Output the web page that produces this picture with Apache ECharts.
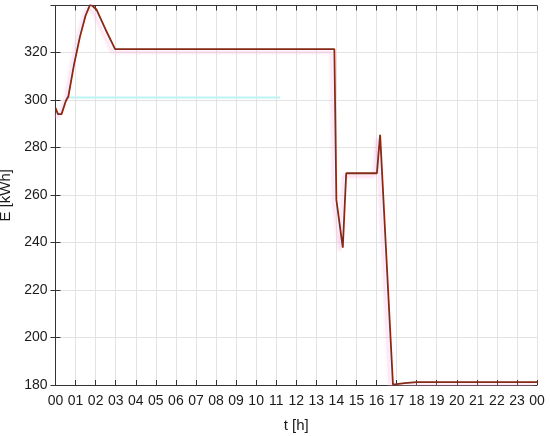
<!DOCTYPE html>
<html>
<head>
<meta charset="utf-8">
<script src="https://cdn.jsdelivr.net/npm/echarts@6/dist/echarts.min.js"></script>
<style>
html,body{margin:0;padding:0;background:#fff;}
#chart{width:550px;height:436px;}
</style>
</head>
<body>
<div id="chart"></div>
<script>
// time in hours, energy in kWh
var hours = [0, 0.12, 0.3, 0.52, 0.64, 0.92, 1.22, 1.5, 1.72, 1.85, 2.05, 2.5, 2.97,
             13.9, 14.0, 14.32, 14.49, 16.02, 16.18, 16.82, 17.4, 18, 24];
var energy = [296.6, 294.0, 294.0, 299.6, 301.4, 314.7, 326.6, 335.5, 340, 339.5, 337.9, 329.5, 321.3,
              321.3, 257.9, 237.8, 269.1, 269.1, 285.3, 180.2, 180.8, 181.2, 181.2];
var refHours = [0.52, 11.2];
var refEnergy = [301, 301];
var yTicks = [180, 200, 220, 240, 260, 280, 300, 320];

var pair = function (xs, ys) {
    return xs.map(function (x, i) { return [x, ys[i]]; });
};
var two = function (v) {
    var h = Math.round(v) % 24;
    return (h < 10 ? "0" : "") + h;
};

var myChart = echarts.init(document.getElementById("chart"));
var option = {
    animation: false,
    textStyle: { fontFamily: "Liberation Sans, Arial, sans-serif" },
    grid: { left: 55.5, right: 13, top: 5.5, bottom: 51, containLabel: false, outerBoundsMode: "none" },
    xAxis: [
        {
            type: "value",
            min: 0,
            max: 24,
            interval: 1,
            name: "t [h]",
            nameLocation: "middle",
            nameGap: 33,
            nameTextStyle: { fontSize: 15, color: "#1a1a1a" },
            axisLine: { show: true, onZero: false, lineStyle: { color: "#333", width: 1 } },
            axisTick: { show: true, inside: true, length: 5, lineStyle: { color: "#333" } },
            axisLabel: { color: "#1a1a1a", fontSize: 14, margin: 9, formatter: two },
            splitLine: { show: true, lineStyle: { color: "#e3e3e3", width: 1 } }
        },
        {
            type: "value",
            position: "top",
            min: 0,
            max: 24,
            interval: 1,
            axisLine: { show: true, lineStyle: { color: "#333", width: 1 } },
            axisTick: { show: true, inside: true, length: 5, lineStyle: { color: "#333" } },
            axisLabel: { show: false },
            splitLine: { show: false }
        }
    ],
    yAxis: [
        {
            type: "value",
            min: 180,
            max: 339.7,
            interval: 20,
            name: "E [kWh]",
            nameLocation: "middle",
            nameGap: 33,
            nameRotate: 90,
            nameTextStyle: { fontSize: 15, color: "#1a1a1a" },
            axisLine: { show: true, lineStyle: { color: "#333", width: 1 } },
            axisTick: { show: true, inside: true, length: 5, lineStyle: { color: "#333" } },
            axisLabel: {
                color: "#1a1a1a", fontSize: 14, margin: 8, showMaxLabel: false,
                formatter: function (v) { return yTicks.indexOf(v) >= 0 ? v : ""; }
            },
            splitLine: { show: true, lineStyle: { color: "#e3e3e3", width: 1 } }
        },
        {
            type: "value",
            position: "right",
            min: 180,
            max: 339.7,
            interval: 20,
            axisLine: { show: true, lineStyle: { color: "#333", width: 1 } },
            axisTick: { show: true, inside: true, length: 5, lineStyle: { color: "#333" } },
            axisLabel: { show: false },
            splitLine: { show: false }
        }
    ],
    series: [
        {
            name: "ref",
            type: "line",
            data: pair(refHours, refEnergy),
            symbol: "none",
            lineStyle: { color: "#bdf3f3", width: 2 }
        },
        {
            name: "E",
            type: "line",
            data: pair(hours, energy),
            symbol: "none",
            clip: true,
            lineStyle: {
                color: "#852a16",
                width: 1.8,
                shadowColor: "rgba(255,170,220,0.6)",
                shadowBlur: 3,
                shadowOffsetX: -3,
                shadowOffsetY: 3
            }
        }
    ]
};
myChart.setOption(option);
</script>
</body>
</html>
